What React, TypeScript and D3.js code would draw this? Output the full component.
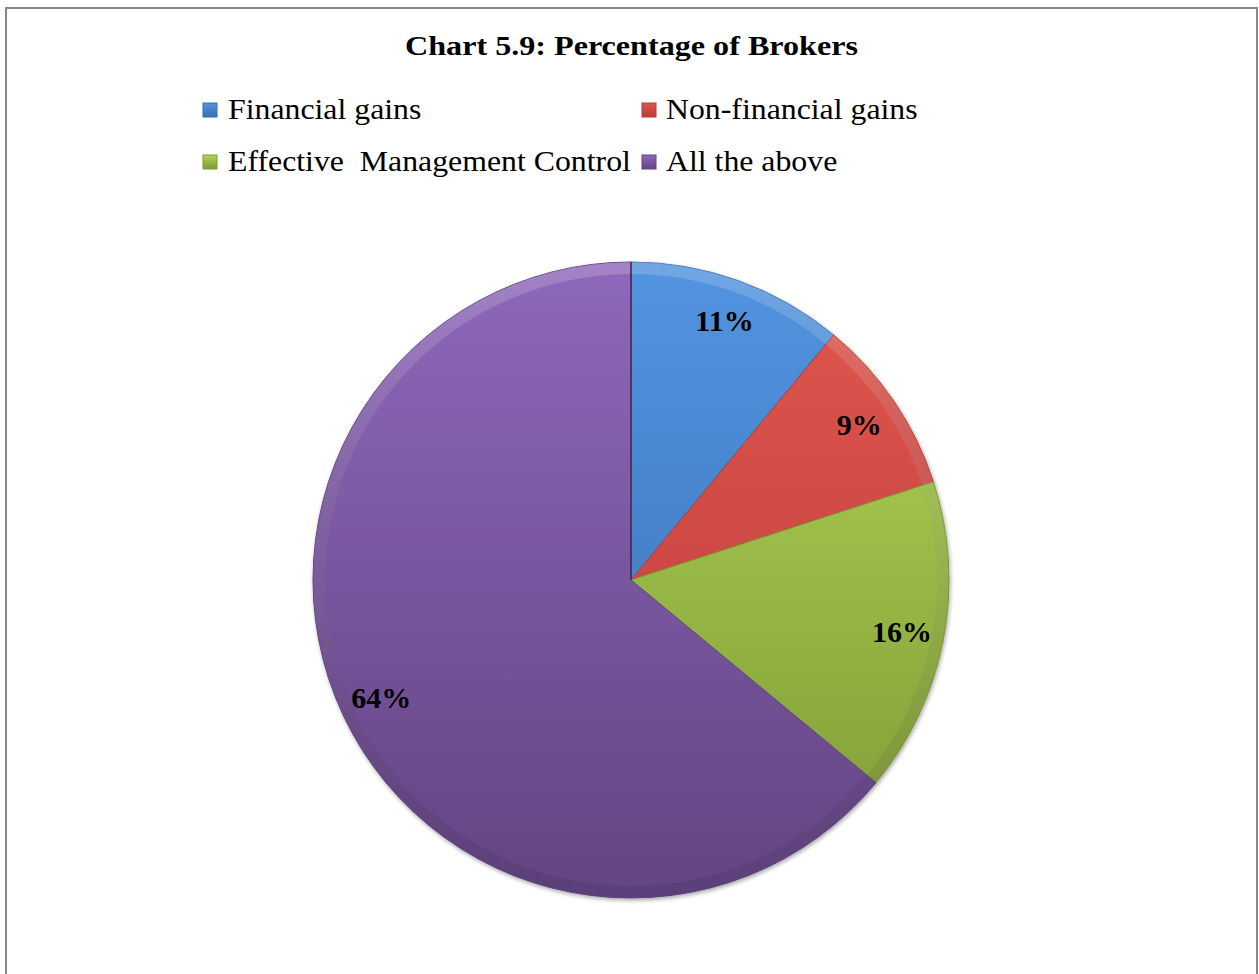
import React from "react";
import * as d3 from "d3";

const categories = ["Financial gains", "Non-financial gains", "Effective  Management Control", "All the above"];
const values = [11, 9, 16, 64];
const labels = ["11%", "9%", "16%", "64%"];
const topColors = ["#5294e0", "#e3564f", "#b3d653", "#8e68bb"];
const bottomColors = ["#3a6db2", "#b53c37", "#7c9936", "#634482"];

const W = 1259;
const H = 974;
const cx = 631;
const cy = 580;
const R = 318;
const labelR = 276;

export default function App() {
  const pie = d3.pie<number>().sort(null).value((d) => d)(values);
  const arc = d3.arc<d3.PieArcDatum<number>>().innerRadius(0).outerRadius(R);
  const bevel = d3.arc<d3.PieArcDatum<number>>().innerRadius(R - 12).outerRadius(R);
  const labelArc = d3.arc<d3.PieArcDatum<number>>().innerRadius(labelR).outerRadius(labelR);

  const legendItems = [
    { x: 203, y: 103, tx: 228, ty: 119 },
    { x: 642, y: 103, tx: 666, ty: 119 },
    { x: 203, y: 155, tx: 228, ty: 171 },
    { x: 642, y: 155, tx: 666, ty: 171 },
  ];

  return (
    <svg width={W} height={H} style={{ position: "absolute", left: 0, top: 0, display: "block" }}>
      <defs>
        {values.map((_, i) => (
          <linearGradient key={i} id={`g${i}`} gradientUnits="userSpaceOnUse" x1={0} y1={-R} x2={0} y2={R}>
            <stop offset="0" stopColor={topColors[i]} />
            <stop offset="1" stopColor={bottomColors[i]} />
          </linearGradient>
        ))}
        {values.map((_, i) => (
          <linearGradient key={"m" + i} id={`m${i}`} x1="0" y1="0" x2="0" y2="1">
            <stop offset="0" stopColor={topColors[i]} />
            <stop offset="1" stopColor={bottomColors[i]} />
          </linearGradient>
        ))}
        <linearGradient id="bevelG" gradientUnits="userSpaceOnUse" x1={0} y1={-R} x2={0} y2={R}>
          <stop offset="0" stopColor="#ffffff" stopOpacity={0.18} />
          <stop offset="1" stopColor="#000000" stopOpacity={0.08} />
        </linearGradient>
        <filter id="shadow" x="-10%" y="-10%" width="120%" height="120%">
          <feGaussianBlur in="SourceAlpha" stdDeviation="2" />
          <feOffset dx="1" dy="2" result="b" />
          <feComponentTransfer>
            <feFuncA type="linear" slope="0.35" />
          </feComponentTransfer>
          <feMerge>
            <feMergeNode />
            <feMergeNode in="SourceGraphic" />
          </feMerge>
        </filter>
      </defs>
      <rect x={6} y={8} width={1251} height={980} fill="#fff" stroke="#888" strokeWidth={2} />
      <text x={405} y={55} textLength={453} lengthAdjust="spacingAndGlyphs" fontFamily="'Liberation Serif', 'Times New Roman', serif" fontWeight="bold" fontSize={27}>
        Chart 5.9: Percentage of Brokers
      </text>
      {categories.map((c, i) => (
        <g key={c}>
          <rect x={legendItems[i].x} y={legendItems[i].y} width={14} height={14} fill={`url(#m${i})`} stroke={bottomColors[i]} strokeWidth={1} />
          <g transform={`translate(${legendItems[i].tx},${legendItems[i].ty}) scale(1.06,1)`}>
            <text x={0} y={0} fontFamily="'Liberation Serif', 'Times New Roman', serif" fontSize={30} style={{ whiteSpace: "pre" }}>
              {c}
            </text>
          </g>
        </g>
      ))}
      <g transform={`translate(${cx},${cy})`} filter="url(#shadow)">
        {pie.map((p, i) => (
          <path key={i} d={arc(p) || ""} fill={`url(#g${i})`} stroke={bottomColors[i]} strokeWidth={1} />
        ))}
      </g>
      <g transform={`translate(${cx},${cy})`}>
        {pie.map((p, i) => (
          <path key={"b" + i} d={bevel(p) || ""} fill="url(#bevelG)" />
        ))}
        <line x1={0} y1={0} x2={0} y2={-R} stroke="#3d2f55" strokeWidth={1.5} />
        {pie.map((p, i) => {
          const [lx, ly] = labelArc.centroid(p);
          return (
            <text
              key={"l" + i}
              x={lx}
              y={ly}
              dy="0.35em"
              textAnchor="middle"
              fontFamily="'Liberation Serif', 'Times New Roman', serif"
              fontWeight="bold"
              fontSize={30}
              fill="#000"
            >
              {labels[i]}
            </text>
          );
        })}
      </g>
    </svg>
  );
}
